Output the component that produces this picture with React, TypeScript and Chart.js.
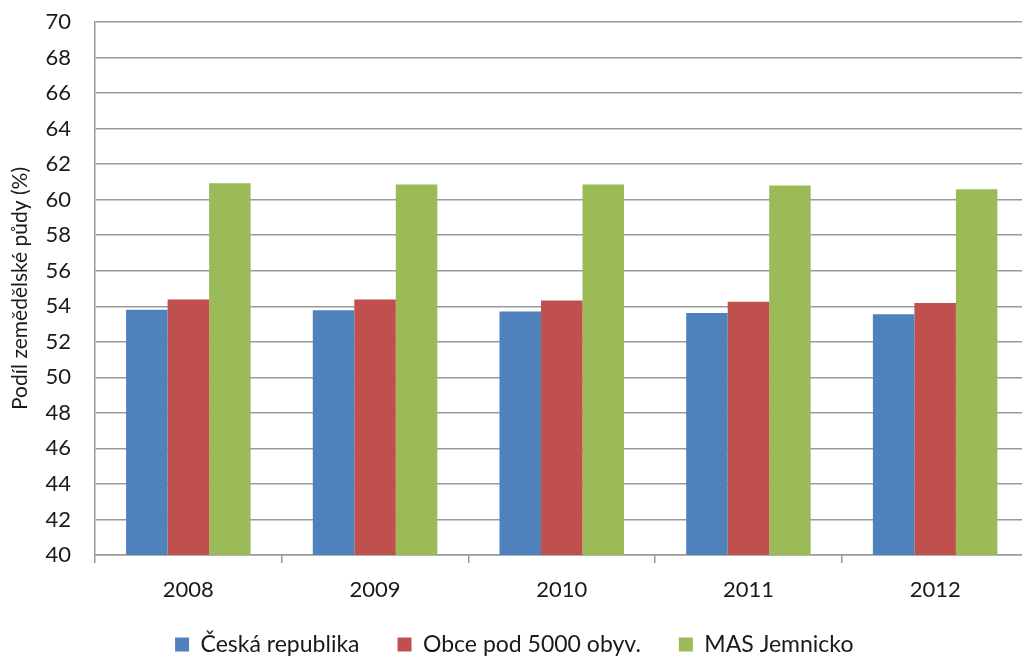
import React, { useEffect, useRef } from "react";
import { Chart, registerables } from "chart.js";

Chart.register(...registerables);

const categories = ["2008", "2009", "2010", "2011", "2012"];
const seriesNames = ["Česká republika", "Obce pod 5000 obyv.", "MAS Jemnicko"];
const ceskaRepublika = [53.81, 53.77, 53.7, 53.62, 53.55];
const obcePod5000 = [54.38, 54.38, 54.33, 54.25, 54.18];
const masJemnicko = [60.93, 60.86, 60.86, 60.8, 60.58];
const seriesColors = ["#4F81BD", "#C0504D", "#9BBB59"];
const yMin = 40;
const yMax = 70;
const yStep = 2;
const yTitle = "Podíl zemědělské půdy (%)";

const FONT = "Lato, 'Open Sans', sans-serif";

export default function App() {
  const ref = useRef<HTMLCanvasElement | null>(null);
  useEffect(() => {
    if (!ref.current) return;
    const values = [ceskaRepublika, obcePod5000, masJemnicko];
    const chart = new Chart(ref.current, {
      type: "bar",
      data: {
        labels: categories,
        datasets: seriesNames.map((name, i) => ({
          label: name,
          data: values[i],
          backgroundColor: seriesColors[i],
          borderWidth: 0,
          categoryPercentage: 0.667,
          barPercentage: 1,
        })),
      },
      options: {
        animation: false,
        responsive: false,
        devicePixelRatio: 1,
        layout: { padding: { top: 22, right: 1.5, bottom: 0, left: 0 } },
        plugins: {
          legend: {
            position: "bottom",
            labels: {
              boxWidth: 14,
              boxHeight: 14,
              padding: 38,
              color: "#1a1a1a",
              font: { family: FONT, size: 23 },
            },
          },
          tooltip: { enabled: false },
        },
        scales: {
          x: {
            grid: {
              display: true,
              drawOnChartArea: false,
              drawTicks: true,
              tickLength: 8,
              color: "#9a9a9a",
              lineWidth: 1.5,
            },
            border: { display: true, color: "#9a9a9a", width: 1.5 },
            ticks: {
              padding: 14,
              color: "#1a1a1a",
              font: { family: FONT, size: 22 },
            },
            afterFit: (scale: any) => {
              scale.height = 40;
              scale._computeLabelArea = () => undefined;
            },
          },
          y: {
            min: yMin,
            max: yMax,
            ticks: {
              stepSize: yStep,
              padding: 24,
              color: "#1a1a1a",
              font: { family: FONT, size: 22 },
            },
            grid: {
              color: "#9a9a9a",
              lineWidth: 1.5,
              drawTicks: false,
            },
            border: { display: true, color: "#9a9a9a", width: 1.5 },
            title: {
              display: true,
              text: yTitle,
              color: "#1a1a1a",
              font: { family: FONT, size: 21 },
              padding: { top: 8, bottom: 0 },
            },
            afterFit: (scale: any) => {
              scale.width = 95;
              scale.paddingTop = 0;
              scale.paddingBottom = 0;
            },
          },
        },
      },
    });
    return () => chart.destroy();
  }, []);
  return (
    <div
      style={{
        position: "absolute",
        left: 0,
        top: 0,
        width: 1022,
        height: 657,
        overflow: "hidden",
        background: "#fff",
      }}
    >
      <canvas ref={ref} width={1030} height={666} style={{ display: "block" }} />
    </div>
  );
}
